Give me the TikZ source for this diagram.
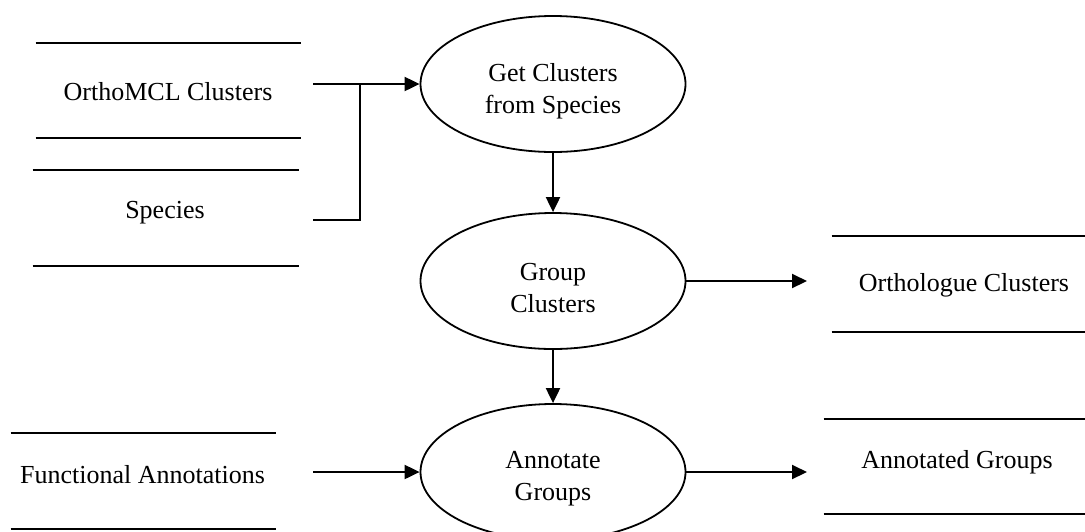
\documentclass[tikz,border=0pt]{standalone}
\usepackage{fontspec}
\setmainfont{Liberation Serif}
\usetikzlibrary{shapes.geometric,arrows.meta}

\begin{document}
\begin{tikzpicture}[
  x=0.5pt, y=-0.5pt,
  every node/.style={font=\fontsize{13}{16}\selectfont},
  process/.style={ellipse, draw, line width=0.9pt, minimum width=132.5pt,
                  minimum height=68pt, inner sep=0pt},
  caption/.style={label={[align=center, yshift=-3.5pt]center:#1}},
  store/.style={inner sep=0pt, align=center},
  storeline/.style={line width=1pt},
  flow/.style={line width=1pt, -{Triangle[length=7.5pt,width=7pt]}},
  wire/.style={line width=1pt}
]
\useasboundingbox (0,0) rectangle (1085,531);
\clip (0,0) rectangle (1085,531);

% processes
\node[process, caption={Get Clusters\\from Species}] (e1) at (553,84)  {};
\node[process, caption={Group\\Clusters}]            (e2) at (553,281) {};
\node[process, caption={Annotate\\Groups}]           (e3) at (553,472) {};

% data stores: a label between two horizontal rules
\node[store, minimum width=132.5pt, minimum height=47.5pt] (orth) at (168.5,90.5) {};
\node[store] at (168,92) {OrthoMCL Clusters};
\draw[storeline] (orth.north west) -- (orth.north east) (orth.south west) -- (orth.south east);

\node[store, minimum width=133pt, minimum height=48pt] (spec) at (166,218) {};
\node[store] at (165,213) {Species};
\draw[storeline] (spec.north west) -- (spec.north east) (spec.south west) -- (spec.south east);

\node[store, minimum width=132.5pt, minimum height=48pt] (func) at (143.5,481) {};
\node[store] at (142.5,475) {Functional Annotations};
\draw[storeline] (func.north west) -- (func.north east) (func.south west) -- (func.south east);

\node[store, minimum width=126.5pt, minimum height=48pt] (ortg) at (958.5,284) {};
\node[store] at (964,285) {Orthologue Clusters};
\draw[storeline] (ortg.north west) -- (ortg.north east) (ortg.south west) -- (ortg.south east);

\node[store, minimum width=130.5pt, minimum height=47.5pt] (anng) at (954.5,466.5) {};
\node[store] at (957,462) {Annotated Groups};
\draw[storeline] (anng.north west) -- (anng.north east) (anng.south west) -- (anng.south east);

% free ends of the flows
\coordinate (oOut) at (313,84);
\coordinate (sOut) at (313,220);
\coordinate (join) at (360,84);
\coordinate (fOut) at (313,472);
\coordinate (ogIn) at (807,281);
\coordinate (agIn) at (807,472);

% flows
\draw[flow] (oOut) -- (e1.west);
\draw[wire] (sOut) -| (join);
\draw[flow] (e1.south) -- (e2.north);
\draw[flow] (e2.east) -- (ogIn);
\draw[flow] (e2.south) -- (e3.north);
\draw[flow] (fOut) -- (e3.west);
\draw[flow] (e3.east) -- (agIn);
\end{tikzpicture}
\end{document}
